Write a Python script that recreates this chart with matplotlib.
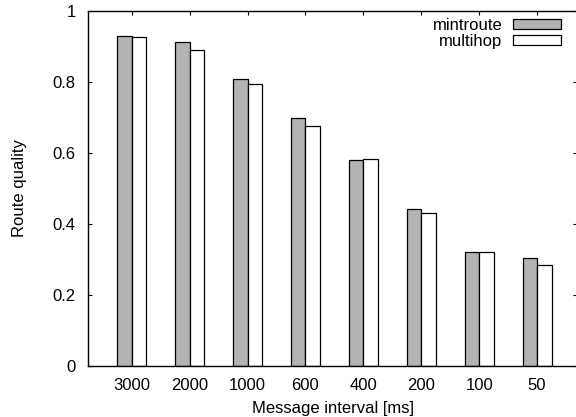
import matplotlib
matplotlib.use("Agg")
import matplotlib.pyplot as plt
import numpy as np

# data
intervals = ["3000", "2000", "1000", "600", "400", "200", "100", "50"]
mintroute = [0.930, 0.912, 0.808, 0.699, 0.581, 0.443, 0.321, 0.304]
multihop = [0.926, 0.890, 0.795, 0.675, 0.583, 0.430, 0.320, 0.283]

plt.rcParams['font.family'] = ['Liberation Sans', 'DejaVu Sans']
plt.rcParams['font.size'] = 12

fig = plt.figure(figsize=(5.76, 4.17), dpi=100)
ax = fig.add_axes([88/576, 51.3/417, 489/576, 354.7/417])

x = np.arange(len(intervals))
w = 0.25
ax.bar(x - w/2, mintroute, w, color='#b3b3b3', edgecolor='black', linewidth=0.9, label='mintroute')
ax.bar(x + w/2, multihop, w, color='white', edgecolor='black', linewidth=0.9, label='multihop')

ax.set_xlim(-0.755, 7.69)
ax.set_ylim(0, 1)
ax.set_xticks(x)
ax.set_xticklabels(intervals)
ax.set_yticks([0, 0.2, 0.4, 0.6, 0.8, 1])
ax.set_yticklabels(['0', '0.2', '0.4', '0.6', '0.8', '1'])
ax.tick_params(axis='x', bottom=False, top=True, labelbottom=True, direction='in', length=3, pad=9)
ax.tick_params(axis='y', left=True, right=True, direction='in', length=3, pad=9)
for s in ax.spines.values():
    s.set_linewidth(1.0)

ax.set_xlabel('Message interval [ms]', labelpad=5.5)
ax.set_ylabel('Route quality', labelpad=18.5)

ax.legend(loc='upper right', bbox_to_anchor=(561/576, 1 - 18/417), bbox_transform=fig.transFigure,
          frameon=False, markerfirst=False, handlelength=2.9, handleheight=0.5,
          labelspacing=0.05, handletextpad=0.6, borderaxespad=0, borderpad=0)

fig.savefig('out.png', dpi=100)
